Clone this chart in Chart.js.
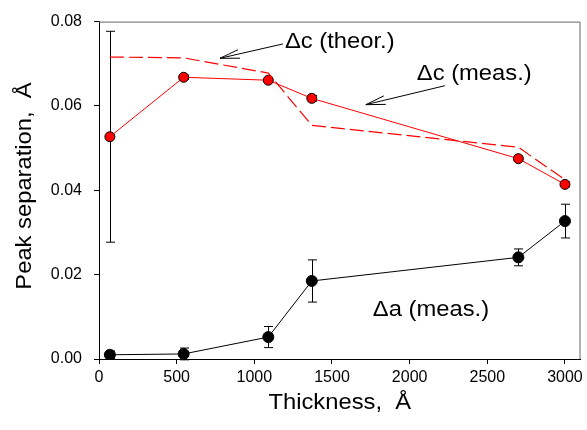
<!DOCTYPE html>
<html lang="en">
<head>
  <meta charset="UTF-8" />
  <title>Peak separation vs thickness</title>
  <script src="https://cdn.jsdelivr.net/npm/chart.js"></script>
  <style>
    body { margin: 0; background: #fff; }
    #wrap { width: 587px; height: 430px; }
  </style>
</head>
<body>
  <div id="wrap"><canvas id="chart" width="587" height="430"></canvas></div>

  <script>
    // data
    const thickness = [70, 545, 1090, 1370, 2700, 3000];
    const dcMeas = [0.0527, 0.0668, 0.0661, 0.0618, 0.0475, 0.0414];
    const dcMeasErr = [0.0250, 0.0005, 0.0005, 0.0007, 0.0006, 0.0006];
    const dcTheor = [0.0716, 0.0714, 0.0678, 0.0554, 0.0502, 0.0425];
    const daMeas = [0.0010, 0.0012, 0.0052, 0.0185, 0.0241, 0.0327];
    const daMeasErr = [0.0009, 0.0014, 0.0025, 0.0050, 0.0020, 0.0040];

    const xTicks = [0, 500, 1000, 1500, 2000, 2500, 3000];
    const yTicks = [0, 0.02, 0.04, 0.06, 0.08];

    // text labels with arrows, in data units
    const notes = [
      { text: "\u0394c (theor.)", x: 1197, y: 0.0752, from: [1184, 0.0747], to: [779, 0.0713] },
      { text: "\u0394c (meas.)", x: 2046, y: 0.0676, from: [2227, 0.0648], to: [1718, 0.0603] },
      { text: "\u0394a (meas.)", x: 1763, y: 0.0116 }
    ];

    const FONT = "'Liberation Sans', Arial, Helvetica, sans-serif";
    const pts = ys => thickness.map((x, i) => ({ x: x, y: ys[i] }));

    // the original lettering is a little wider than Arial
    function wideText(ctx, txt, x, y, rot) {
      ctx.save();
      ctx.translate(x, y);
      if (rot) ctx.rotate(rot);
      ctx.scale(1.08, 1);
      ctx.fillText(txt, 0, 0);
      ctx.restore();
    }

    const errorBars = {
      id: "errorBars",
      beforeDatasetsDraw(chart) {
        const ctx = chart.ctx;
        const xs = chart.scales.x, ys = chart.scales.y;
        ctx.save();
        ctx.strokeStyle = "#000";
        ctx.lineWidth = 1;
        chart.data.datasets.forEach(ds => {
          if (!ds.err) return;
          ds.data.forEach((p, i) => {
            const px = Math.round(xs.getPixelForValue(p.x)) + 0.5;
            const top = ys.getPixelForValue(p.y + ds.err[i]);
            const bot = ys.getPixelForValue(p.y - ds.err[i]);
            ctx.beginPath();
            ctx.moveTo(px, top); ctx.lineTo(px, bot);
            ctx.moveTo(px - 4.5, top); ctx.lineTo(px + 4.5, top);
            ctx.moveTo(px - 4.5, bot); ctx.lineTo(px + 4.5, bot);
            ctx.stroke();
          });
        });
        ctx.restore();
      }
    };

    const extras = {
      id: "extras",
      afterDraw(chart) {
        const ctx = chart.ctx;
        const a = chart.chartArea;
        const xs = chart.scales.x, ys = chart.scales.y;
        ctx.save();
        // top and right frame
        ctx.strokeStyle = "#666";
        ctx.lineWidth = 1;
        ctx.beginPath();
        ctx.moveTo(a.left, a.top + 0.5); ctx.lineTo(a.right - 0.5, a.top + 0.5);
        ctx.lineTo(a.right - 0.5, a.bottom);
        ctx.stroke();

        ctx.fillStyle = "#000";
        ctx.font = "22px " + FONT;
        ctx.textBaseline = "middle";
        notes.forEach(n => {
          ctx.textAlign = "left";
          wideText(ctx, n.text, xs.getPixelForValue(n.x), ys.getPixelForValue(n.y));
          if (n.from) {
            const x1 = xs.getPixelForValue(n.from[0]), y1 = ys.getPixelForValue(n.from[1]);
            const x2 = xs.getPixelForValue(n.to[0]), y2 = ys.getPixelForValue(n.to[1]);
            const ang = Math.atan2(y1 - y2, x1 - x2);
            ctx.strokeStyle = "#000";
            ctx.beginPath();
            ctx.moveTo(x1, y1); ctx.lineTo(x2, y2);
            ctx.moveTo(x2 + 20 * Math.cos(ang + 0.22), y2 + 20 * Math.sin(ang + 0.22));
            ctx.lineTo(x2, y2);
            ctx.lineTo(x2 + 20 * Math.cos(ang - 0.22), y2 + 20 * Math.sin(ang - 0.22));
            ctx.stroke();
          }
        });

        // axis titles
        ctx.textAlign = "center";
        wideText(ctx, "Thickness,  \u00c5", (a.left + a.right) / 2, 403);
        wideText(ctx, "Peak separation,  \u00c5", 25, 186, -Math.PI / 2);
        ctx.restore();
      }
    };

    new Chart(document.getElementById("chart").getContext("2d"), {
      type: "line",
      data: {
        datasets: [
          {
            data: pts(dcTheor),
            borderColor: "#ff0000",
            borderWidth: 1.2,
            borderDash: [14, 5],
            pointRadius: 0
          },
          {
            data: pts(dcMeas),
            err: dcMeasErr,
            borderColor: "#ff0000",
            borderWidth: 1,
            pointRadius: 5,
            pointBackgroundColor: "#ff0000",
            pointBorderColor: "#000",
            pointBorderWidth: 1
          },
          {
            data: pts(daMeas),
            err: daMeasErr,
            borderColor: "#000",
            borderWidth: 1,
            pointRadius: 5.5,
            pointBackgroundColor: "#000",
            pointBorderColor: "#000"
          }
        ]
      },
      options: {
        responsive: false,
        animation: false,
        events: [],
        layout: { padding: { top: 21, right: 6, left: 0, bottom: 0 } },
        plugins: { legend: { display: false }, tooltip: { enabled: false } },
        scales: {
          x: {
            type: "linear",
            min: 0,
            max: 3100,
            afterFit: s => { s.height = 71; },
            afterBuildTicks: s => { s.ticks = xTicks.map(v => ({ value: v })); },
            grid: { drawOnChartArea: false, tickLength: 5, color: "#000" },
            border: { color: "#000" },
            ticks: {
              color: "#000",
              padding: 4,
              maxRotation: 0,
              font: { family: FONT, size: 16 },
              callback: v => String(v)
            }
          },
          y: {
            min: 0,
            max: 0.08,
            afterFit: s => { s.width = 99; },
            afterBuildTicks: s => { s.ticks = yTicks.map(v => ({ value: v })); },
            grid: { drawOnChartArea: false, tickLength: 5, color: "#000" },
            border: { color: "#000" },
            ticks: {
              color: "#000",
              padding: 12,
              font: { family: FONT, size: 16 },
              callback: v => v.toFixed(2)
            }
          }
        }
      },
      plugins: [errorBars, extras]
    });
  </script>
</body>
</html>
